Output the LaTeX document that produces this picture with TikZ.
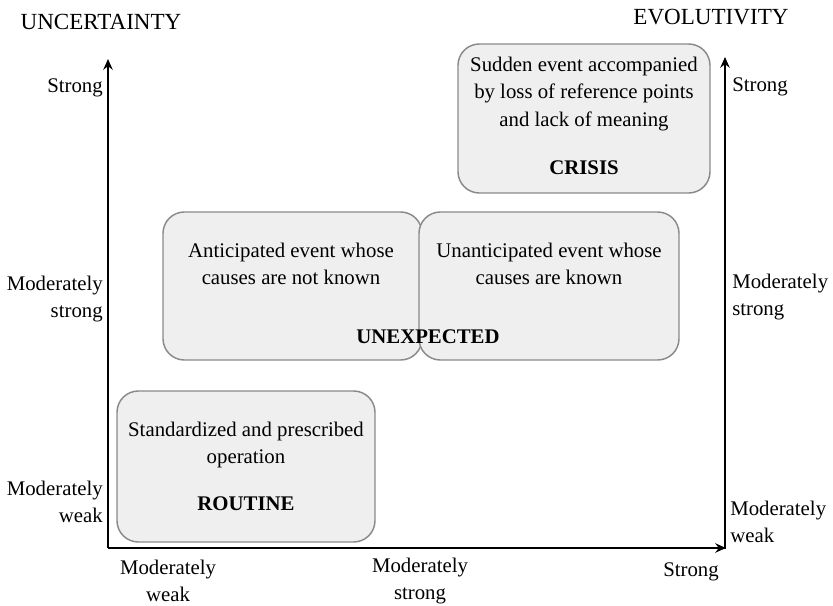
\documentclass[tikz,border=0pt]{standalone}
\usepackage{fontspec}
\setmainfont{Liberation Serif}
\usetikzlibrary{arrows.meta}
\definecolor{boxfill}{HTML}{EFEFEF}
\definecolor{boxline}{HTML}{8A8A8A}
\tikzset{
  box/.style={draw=boxline, fill=boxfill, line width=1.1pt, rounded corners=16pt, inner sep=0pt},
  axis/.style={line width=2.1pt, -{Stealth[length=8pt,width=7pt]}},
  lbl/.style={font=\fontsize{15.6pt}{20.5pt}\selectfont, inner sep=0pt, align=center},
  lblr/.style={lbl, align=right},
  lbll/.style={lbl, align=left},
  ttl/.style={font=\fontsize{17.3pt}{20pt}\selectfont, inner sep=0pt},
  bold/.style={font=\fontsize{15.6pt}{20pt}\selectfont\bfseries, inner sep=0pt}
}
\begin{document}
\begin{tikzpicture}[x=0.75pt,y=-0.75pt]
\useasboundingbox (0,0) rectangle (833,606);
% boxes
\node[box, minimum width={252*0.75pt}, minimum height={149*0.75pt}] (crisis) at (584,118.5) {};
\node[box, minimum width={259*0.75pt}, minimum height={148*0.75pt}] (antic) at (292.5,286) {};
\node[box, minimum width={260*0.75pt}, minimum height={148*0.75pt}] (unant) at (549,286) {};
\node[box, minimum width={258*0.75pt}, minimum height={151*0.75pt}] (routine) at (246,466.5) {};
% box texts
\node[lbl] (crisistxt) at (584,94) {Sudden event accompanied\\by loss of reference points\\and lack of meaning};
\node[bold] (crisislbl) at (584,168) {CRISIS};
\node[lbl] (antictxt) at (291,264) {Anticipated event whose\\causes are not known};
\node[lbl] (unanttxt) at (549,264) {Unanticipated event whose\\causes are known};
\node[bold] (unexp) at (428,337) {UNEXPECTED};
\node[lbl] (routinetxt) at (246,445) {Standardized and prescribed\\operation};
\node[bold] (routinelbl) at (246,504) {ROUTINE};
% axes
\coordinate (O) at (108,548);
\coordinate (Ytop) at (108,59);
\coordinate (Xend) at (726,548);
\coordinate (R0) at (725,549);
\coordinate (Rtop) at (725,57);
\draw[axis] (O) -- (Ytop);
\draw[axis] (O) -- (Xend);
\draw[axis] (R0) -- (Rtop);
% titles
\node[ttl] (unc) at (101,22) {UNCERTAINTY};
\node[ttl] (evo) at (711,17) {EVOLUTIVITY};
% left labels
\node[lblr, anchor=east] (ls) at (103,88) {Strong};
\node[lblr, anchor=east] (lms) at (103,299) {Moderately\\strong};
\node[lblr, anchor=east] (lmw) at (103,502) {Moderately\\weak};
% bottom labels
\node[lbl] (bmw) at (168,581) {Moderately\\weak};
\node[lbl] (bms) at (420,581) {Moderately\\strong};
\node[lbl, anchor=east] (bs) at (719,572) {Strong};
% right labels
\node[lbll, anchor=west] (rs) at (732,87) {Strong};
\node[lbll, anchor=west] (rms) at (732,297) {Moderately\\strong};
\node[lbll, anchor=west] (rmw) at (730,522) {Moderately\\weak};
\end{tikzpicture}
\end{document}
